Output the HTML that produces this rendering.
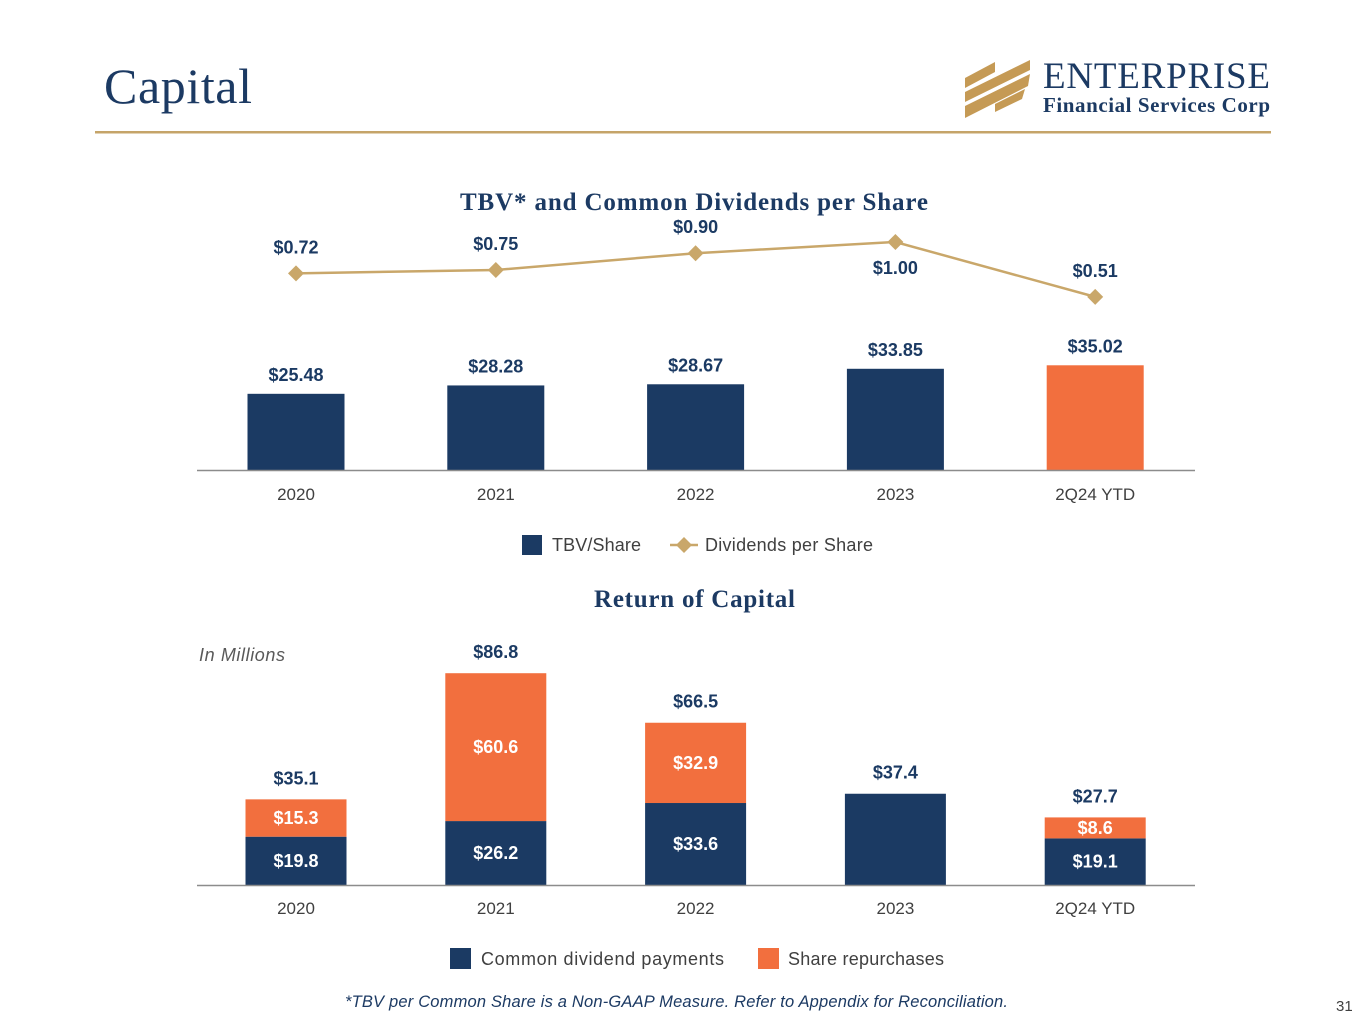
<!DOCTYPE html>
<html><head><meta charset="utf-8"><style>
html,body{margin:0;padding:0;background:#fff;}
body{width:1365px;height:1024px;position:relative;overflow:hidden;font-family:"Liberation Sans",sans-serif;}
svg{position:absolute;left:0;top:0;}
</style></head><body>
<svg id="s" width="1365" height="1024" xmlns="http://www.w3.org/2000/svg">
<text x="104" y="103" font-family="Liberation Serif,serif" font-size="50" fill="#1c3a63" textLength="148">Capital</text>
<rect x="95" y="131" width="1176" height="2.5" fill="#c5a469"/>
<g>
<polygon points="965,78 995,62 995,72 965,88" fill="#c59a55"/>
<polygon points="965,92 1030,60 1030,70 965,102" fill="#c59a55"/>
<polygon points="965,106 1030,74 1028,86 965,118" fill="#c59a55"/>
<polygon points="995,104 1025,89 1022,99 995,112" fill="#c59a55"/>
<text x="1043" y="88" font-family="Liberation Serif,serif" font-size="37" fill="#1c3a63" textLength="227">ENTERPRISE</text>
<text x="1043" y="112" font-family="Liberation Serif,serif" font-weight="bold" font-size="21" fill="#1c3a63" textLength="227">Financial Services Corp</text>
</g>
<text x="460" y="210" font-family="Liberation Serif,serif" font-weight="bold" font-size="25" fill="#1c3a63" textLength="468">TBV* and Common Dividends per Share</text>
<g id="c1"></g>
<text x="594" y="607" font-family="Liberation Serif,serif" font-weight="bold" font-size="25" fill="#1c3a63" textLength="201">Return of Capital</text>
<text x="199" y="661" font-style="italic" font-size="18" fill="#595959" textLength="86">In Millions</text>
<g id="c2"></g>
<text x="345" y="1007" font-style="italic" font-size="16.5" fill="#1c3a63" textLength="663">*TBV per Common Share is a Non-GAAP Measure. Refer to Appendix for Reconciliation.</text>
<text x="1336" y="1011" font-size="15" fill="#404040">31</text>
</svg>
<script>
const categories=["2020","2021","2022","2023","2Q24 YTD"];
const tbv=[25.48,28.28,28.67,33.85,35.02];
const tbvLabels=["$25.48","$28.28","$28.67","$33.85","$35.02"];
const divs=[0.72,0.75,0.90,1.00,0.51];
const divLabels=["$0.72","$0.75","$0.90","$1.00","$0.51"];
const divLabelBelow=[false,false,false,true,false];
const commonDiv=[19.8,26.2,33.6,37.4,19.1];
const repurch=[15.3,60.6,32.9,0,8.6];
const totals=[35.1,86.8,66.5,37.4,27.7];
const NS="http://www.w3.org/2000/svg";
const NAVY="#1b3a63",ORANGE="#f26f3e",GOLD="#c9a76a";
function mk(p,t,a,txt){const e=document.createElementNS(NS,t);for(const k in a)e.setAttribute(k,a[k]);if(txt!==undefined)e.textContent=txt;p.appendChild(e);return e;}
const xC=i=>296+i*199.8;
// chart 1
const c1=document.getElementById('c1');
const y1=v=>470-v*2.99;
const yD=v=>354-v*112;
categories.forEach((c,i)=>{
 const b=mk(c1,'rect',{x:xC(i)-48.5,y:y1(tbv[i]),width:97,height:470-y1(tbv[i]),fill:i==4?ORANGE:NAVY});
 
 
 const l=mk(c1,'text',{x:xC(i),y:y1(tbv[i])-13,'text-anchor':'middle','font-size':18,'font-weight':'bold',fill:NAVY},tbvLabels[i]);
 
 
 const x=mk(c1,'text',{x:xC(i),y:500,'text-anchor':'middle','font-size':17,fill:'#404040'},c);
 
 
});
const ax1=mk(c1,'line',{x1:197,x2:1195,y1:470.5,y2:470.5,stroke:'#8c8c8c','stroke-width':1.5});


const ln=mk(c1,'polyline',{points:divs.map((v,i)=>xC(i)+','+yD(v)).join(' '),fill:'none',stroke:GOLD,'stroke-width':2.5});


divs.forEach((v,i)=>{
 const x=xC(i),y=yD(v);
 const d=mk(c1,'polygon',{points:`${x},${y-8} ${x+8},${y} ${x},${y+8} ${x-8},${y}`,fill:GOLD});
 
 
 const l=mk(c1,'text',{x:x,y:divLabelBelow[i]?y+32:y-20,'text-anchor':'middle','font-size':18,'font-weight':'bold',fill:NAVY},divLabels[i]);
 
 
});
const lg1=mk(c1,'g',{});


mk(lg1,'rect',{x:522,y:535,width:20,height:20,fill:NAVY});
mk(lg1,'text',{x:552,y:551,'font-size':18,fill:'#404040',textLength:89},'TBV/Share');
mk(lg1,'line',{x1:670,x2:698,y1:545,y2:545,stroke:GOLD,'stroke-width':2.5});
mk(lg1,'polygon',{points:'684,537 692,545 684,553 676,545',fill:GOLD});
mk(lg1,'text',{x:705,y:551,'font-size':18,fill:'#404040',textLength:168},'Dividends per Share');
// chart 2
const c2=document.getElementById('c2');
const y2=v=>885-v*2.44;
categories.forEach((c,i)=>{
 const x0=xC(i)-50.5;
 const b=mk(c2,'rect',{x:x0,y:y2(commonDiv[i]),width:101,height:885-y2(commonDiv[i]),fill:NAVY});
 
 
 if(repurch[i]>0){
  const r=mk(c2,'rect',{x:x0,y:y2(commonDiv[i]+repurch[i]),width:101,height:repurch[i]*2.44,fill:ORANGE});
  
  
  const rl=mk(c2,'text',{x:xC(i),y:y2(commonDiv[i]+repurch[i]/2)+6,'text-anchor':'middle','font-size':18,'font-weight':'bold',fill:'#fff'},'$'+repurch[i].toFixed(1));
  
  
  const dl=mk(c2,'text',{x:xC(i),y:y2(commonDiv[i]/2)+6,'text-anchor':'middle','font-size':18,'font-weight':'bold',fill:'#fff'},'$'+commonDiv[i].toFixed(1));
  
  
 }
 const t=mk(c2,'text',{x:xC(i),y:y2(totals[i])-15,'text-anchor':'middle','font-size':18,'font-weight':'bold',fill:NAVY},'$'+totals[i].toFixed(1));
 
 
 const x=mk(c2,'text',{x:xC(i),y:914,'text-anchor':'middle','font-size':17,fill:'#404040'},c);
 
 
});
const ax2=mk(c2,'line',{x1:197,x2:1195,y1:885.5,y2:885.5,stroke:'#8c8c8c','stroke-width':1.5});


const lg2=mk(c2,'g',{});


mk(lg2,'rect',{x:450,y:948,width:21,height:21,fill:NAVY});
mk(lg2,'text',{x:481,y:965,'font-size':18,fill:'#404040',textLength:243},'Common dividend payments');
mk(lg2,'rect',{x:758,y:948,width:21,height:21,fill:ORANGE});
mk(lg2,'text',{x:788,y:965,'font-size':18,fill:'#404040',textLength:156},'Share repurchases');
</script>
</body></html>
